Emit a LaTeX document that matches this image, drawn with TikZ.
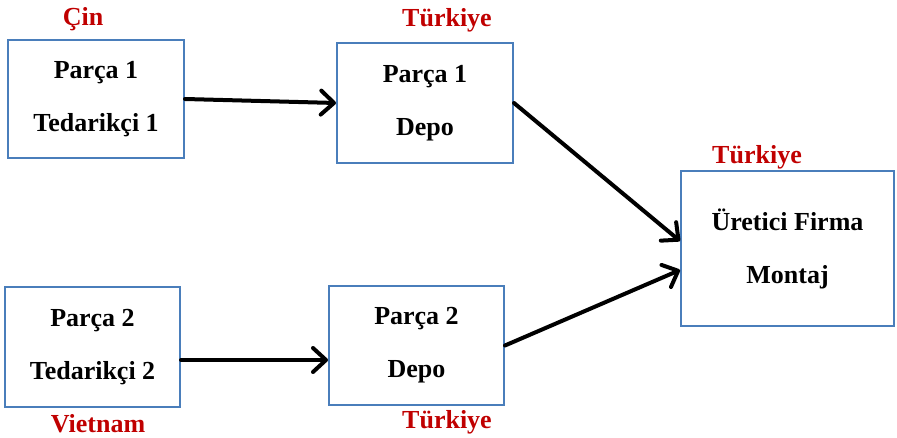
\documentclass[tikz,border=0pt]{standalone}
\usepackage{fontspec}
\setmainfont{Liberation Serif}
\usepackage{xcolor}
\usetikzlibrary{arrows.meta, positioning}
\definecolor{kutumavi}{HTML}{4A7EBB}
\definecolor{ulkekirmizi}{HTML}{C00000}

\begin{document}
\begin{tikzpicture}[x=1pt, y=-1pt,
    kutu/.style={draw=kutumavi, line width=2pt, align=center, inner sep=0pt,
        font=\fontsize{26}{53}\selectfont\bfseries},
    ulke/.style={anchor=base, inner sep=0pt, text=ulkekirmizi,
        font=\fontsize{26}{30}\selectfont\bfseries},
    ok/.style={-{Straight Barb[length=13pt, width=24pt, round]}, line width=4pt, line cap=round}]
    \useasboundingbox (0,0) rectangle (897,438);

    % kutular
    \node[kutu, minimum width=176pt, minimum height=118pt] (p1ted) at (96,99) {Parça 1\\Tedarikçi 1};
    \node[kutu, minimum width=176pt, minimum height=120pt] (p1depo) at (425,103) {Parça 1\\Depo};
    \node[kutu, minimum width=213pt, minimum height=155pt] (uretici) at (787.5,248.5) {Üretici Firma\\Montaj};
    \node[kutu, minimum width=175pt, minimum height=120pt] (p2ted) at (92.5,347) {Parça 2\\Tedarikçi 2};
    \node[kutu, minimum width=175pt, minimum height=119pt] (p2depo) at (416.5,345.5) {Parça 2\\Depo};

    % ulkeler
    \node[ulke] (cin) at (83,26) {Çin};
    \node[ulke] (tr1) at (447,27) {Türkiye};
    \node[ulke] (tr3) at (757,164) {Türkiye};
    \node[ulke] (vietnam) at (98,432) {Vietnam};
    \node[ulke] (tr2) at (447,428) {Türkiye};

    % oklar
    \draw[ok] (p1ted.east) -- (p1depo.west);
    \draw[ok] (p1depo.east) -- ([yshift=7.5pt]uretici.west);
    \draw[ok] (p2depo.east) -- ([yshift=-21.5pt]uretici.west);
    \draw[ok] ([yshift=-13pt]p2ted.east) -- ([yshift=-14.5pt]p2depo.west);
\end{tikzpicture}
\end{document}
